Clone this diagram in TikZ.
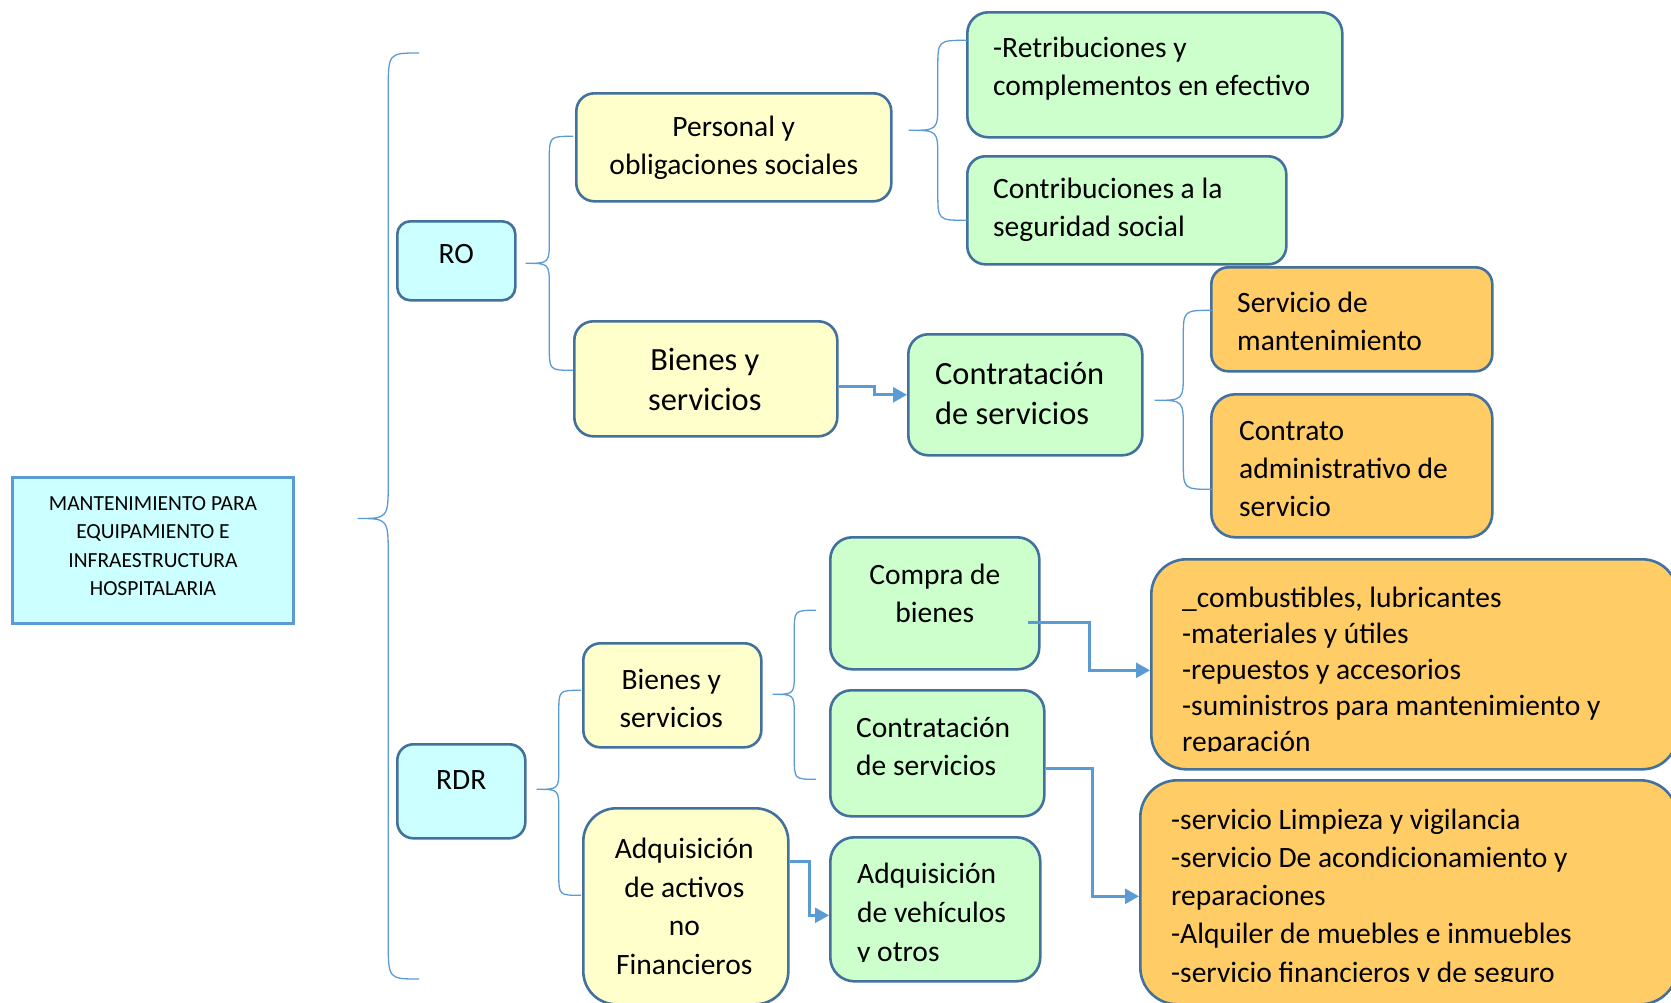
\documentclass[tikz,border=0pt]{standalone}
\usepackage{fontspec}
\setmainfont{Carlito}
\usetikzlibrary{calc,arrows.meta}
\definecolor{bdr}{HTML}{41719C}
\definecolor{lnk}{HTML}{5B9BD5}
\definecolor{cyanf}{HTML}{CCFFFF}
\definecolor{yelf}{HTML}{FFFFCC}
\definecolor{grnf}{HTML}{CCFFCC}
\definecolor{orgf}{HTML}{FFCC66}
\newcommand\curlyb[4]{%
  \draw[brc] let \p1=(#1), \p2=(#2), \p3=(#3), \p4=($(\p1)!.5!(\p2)$) in
  (\p1) .. controls (\x4,\y1) .. (\x4,{\y1-#4}) -- (\x4,{\y2+#4})
  .. controls (\x4,\y2) .. (\p2)
  .. controls (\x4,\y2) .. (\x4,{\y2-#4}) -- (\x4,{\y3+#4})
  .. controls (\x4,\y3) .. (\p3);}
\tikzset{
  box/.style={draw=bdr, line width=2.6pt, inner sep=0pt, anchor=north west},
  tx/.style={inner sep=0pt, text=black, font=\fontsize{29.5}{38}\selectfont},
  big/.style={inner sep=0pt, text=black, font=\fontsize{32.4}{40.5}\selectfont},
  brc/.style={draw=lnk, line width=1.3pt},
  arr/.style={draw=lnk, line width=2.7pt, -{Triangle[length=14pt,width=15pt]}},
}
\begin{document}
\begin{tikzpicture}[x=1pt,y=-1pt]
\useasboundingbox (0,0) rectangle (1671,1002);
% boxes
\node[box, draw=lnk, line width=3pt, fill=cyanf, minimum width=281pt, minimum height=146pt] (mant) at (11,476) {};
\node[box, fill=cyanf, rounded corners=13pt, minimum width=118pt, minimum height=79pt] (RO) at (396,220) {};
\node[box, fill=yelf, rounded corners=18pt, minimum width=315pt, minimum height=108pt] (per) at (575,92) {};
\node[box, fill=yelf, rounded corners=19pt, minimum width=263pt, minimum height=115pt] (bro) at (573,320) {};
\node[box, fill=grnf, rounded corners=20pt, minimum width=234pt, minimum height=121pt] (cro) at (907,333) {};
\node[box, fill=grnf, rounded corners=21pt, minimum width=375pt, minimum height=125pt] (ret) at (966,11) {};
\node[box, fill=grnf, rounded corners=18pt, minimum width=319pt, minimum height=108pt] (con) at (966,155) {};
\node[box, fill=orgf, rounded corners=17pt, minimum width=281pt, minimum height=104pt] (smt) at (1210,266) {};
\node[box, fill=orgf, rounded corners=24pt, minimum width=281pt, minimum height=143pt] (cad) at (1210,393) {};
\node[box, fill=cyanf, rounded corners=16pt, minimum width=128pt, minimum height=94pt] (rdr) at (396,743) {};
\node[box, fill=yelf, rounded corners=17pt, minimum width=178pt, minimum height=104pt] (brd) at (582,642) {};
\node[box, fill=yelf, rounded corners=33pt, minimum width=205pt, minimum height=196pt] (aac) at (582,807) {};
\node[box, fill=grnf, rounded corners=22pt, minimum width=209pt, minimum height=132pt] (cpb) at (829,536) {};
\node[box, fill=grnf, rounded corners=21pt, minimum width=214pt, minimum height=126pt] (csr) at (829,689) {};
\node[box, fill=grnf, rounded corners=24pt, minimum width=210pt, minimum height=144pt] (veh) at (829,836) {};
\node[box, fill=orgf, rounded corners=35pt, minimum width=526pt, minimum height=210pt] (ob1) at (1150,558) {};
\node[box, fill=orgf, rounded corners=37pt, minimum width=537pt, minimum height=224pt] (ob2) at (1139,779) {};
% texts
\node[inner sep=0pt, font=\fontsize{21.5}{28.3}\selectfont, align=center] (t-mant) at ($(mant.center)+(0,-4.5)$) {MANTENIMIENTO PARA\\EQUIPAMIENTO E\\INFRAESTRUCTURA\\HOSPITALARIA};
\node[tx] (t-ro) at ($(RO.center)+(0,-6.5)$) {RO};
\node[tx, align=center] (t-per) at ($(per.center)+(0,0)$) {Personal y\\obligaciones sociales};
\node[big, align=center] (t-bro) at ($(bro.center)+(-1,0.5)$) {Bienes y\\servicios};
\node[big, align=left, anchor=west] (t-cro) at ($(cro.west)+(28,-1.5)$) {Contratación\\de servicios};
\node[tx, align=left, anchor=west] (t-ret) at ($(ret.west)+(27,-6.5)$) {-Retribuciones y\\complementos en efectivo};
\node[tx, align=left, anchor=west] (t-con) at ($(con.west)+(27,-0.5)$) {Contribuciones a la\\seguridad social};
\node[tx, align=left, anchor=west] (t-smt) at ($(smt.west)+(27,2.5)$) {Servicio de\\mantenimiento};
\node[tx, align=left, anchor=west] (t-cad) at ($(cad.west)+(29,3.5)$) {Contrato\\administrativo de\\servicio};
\node[tx] (t-rdr) at ($(rdr.center)+(0,-11)$) {RDR};
\node[tx, align=center] (t-brd) at ($(brd.center)+(-1,3.5)$) {Bienes y\\servicios};
\node[tx, align=center, font=\fontsize{29.5}{38.7}\selectfont] (t-aac) at ($(aac.center)+(-1.5,0)$) {Adquisición\\de activos\\no\\Financieros};
\node[tx, align=center] (t-cpb) at ($(cpb.center)+(0,-9.5)$) {Compra de\\bienes};
\node[tx, align=left, anchor=west] (t-csr) at ($(csr.west)+(27,-7)$) {Contratación\\de servicios};
\begin{scope}
\clip (veh.north west) rectangle ($(veh.south east)+(0,-21.5)$);
\node[tx, align=left, anchor=west, font=\fontsize{29.5}{39}\selectfont] (t-veh) at ($(veh.west)+(28,5)$) {Adquisición\\de vehículos\\y otros};
\end{scope}
\begin{scope}
\clip (ob1.north west) rectangle ($(ob1.south east)+(0,-19)$);
\node[tx, align=left, anchor=west, font=\fontsize{29.5}{36}\selectfont] (t-ob1) at ($(ob1.west)+(32,7.5)$) {\_combustibles, lubricantes\\-materiales y útiles\\-repuestos y accesorios\\-suministros para mantenimiento y\\reparación};
\end{scope}
\begin{scope}
\clip (ob2.north west) rectangle ($(ob2.south east)+(0,-24)$);
\node[tx, align=left, anchor=west, font=\fontsize{29.5}{38.3}\selectfont] (t-ob2) at ($(ob2.west)+(32,5.6)$) {-servicio Limpieza y vigilancia\\-servicio De acondicionamiento y\\reparaciones\\-Alquiler de muebles e inmuebles\\-servicio financieros y de seguro};
\end{scope}
% braces
\coordinate (bigtop) at (419,53);
\coordinate (bigbot) at (419,979);
\curlyb{bigtop}{$(mant.east)+(62.5,-32)$}{bigbot}{38pt}
\curlyb{$(per.west)+(-2,-11)$}{$(RO.east)+(9,2.5)$}{$(bro.west)+(0,-8.5)$}{24pt}
\curlyb{$(ret.west)+(1,-34.5)$}{$(per.east)+(16,-17)$}{$(con.west)+(1,10)$}{28pt}
\curlyb{$(smt.west)+(2,-9)$}{$(cro.east)+(11,5.5)$}{$(cad.west)+(2,23.5)$}{28pt}
\curlyb{$(brd.west)+(-1,-5)$}{$(rdr.east)+(10,-2)$}{$(aac.west)+(-1,-11)$}{22pt}
\curlyb{$(cpb.west)+(-13,7)$}{$(brd.east)+(10,-1)$}{$(csr.west)+(-13,26)$}{22pt}
% arrows
\draw[arr] ($(bro.east)+(0,8)$) -- ($(bro.east)+(36,8)$) |- (cro.west);
\draw[arr] ($(cpb.east)+(-13,19)$) -- ($(cpb.east)+(49,19)$) |- ($(ob1.west)+(0,6)$);
\draw[arr] ($(csr.east)+(0,15)$) -- ($(csr.east)+(47,15)$) |- ($(ob2.west)+(0,4)$);
\draw[arr] ($(aac.east)+(0,-45)$) -- ($(aac.east)+(20,-45)$) |- ($(veh.west)+(0,6)$);
\end{tikzpicture}
\end{document}
